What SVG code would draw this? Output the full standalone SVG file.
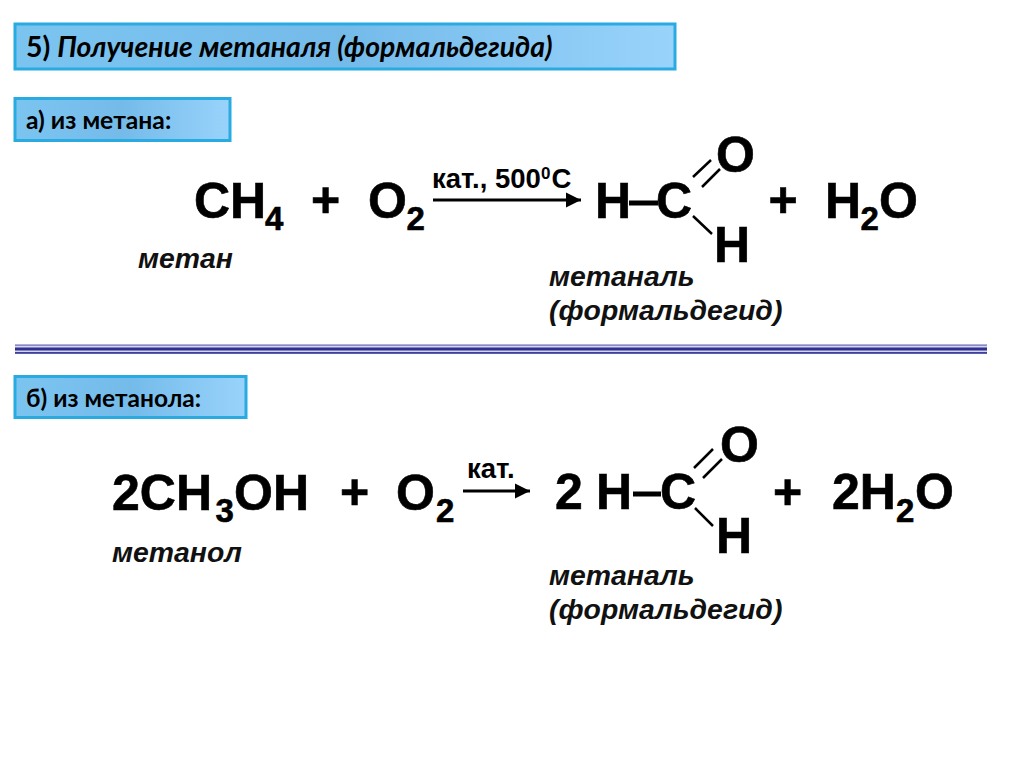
<svg xmlns="http://www.w3.org/2000/svg" width="1024" height="767" viewBox="0 0 1024 767">
<style>
.f{font-family:"Liberation Sans",Arial,sans-serif;font-weight:700;font-size:50px;fill:#000;stroke:#000;stroke-width:.6}
.s{font-size:33px}
.k{font-family:"Liberation Sans",Arial,sans-serif;font-weight:700;font-size:27.500px;fill:#000}
.l{font-family:"Liberation Sans",Arial,sans-serif;font-weight:700;font-style:italic;font-size:28.4px;fill:#111}
.h{font-family:Lato,"Open Sans",sans-serif;font-weight:700;fill:#000}
.b{fill:url(#g);stroke:#29abe2;stroke-width:3}
.c{stroke:#000;fill:none}
</style>
<defs>
<linearGradient id="g" x1="0" x2="1" y1="0" y2="0">
<stop offset="0" stop-color="#7cc4f0"/><stop offset=".5" stop-color="#74bbea"/><stop offset="1" stop-color="#99d3fb"/>
</linearGradient>
<marker id="a" markerUnits="userSpaceOnUse" markerWidth="16" markerHeight="16" refX="15" refY="8" orient="auto"><path d="M0 .5L15 8L0 15.500Z" fill="#000"/></marker>
</defs>
<rect width="1024" height="767" fill="#fff"/>
<g id="title"><rect class="b" x="15" y="24" width="660" height="45"/><text class="h" x="26" y="57" font-size="28.400">5) <tspan font-style="italic">Получение метаналя (формальдегида)</tspan></text></g>
<g id="from-methane"><rect class="b" x="15" y="98.500" width="215" height="42"/><text class="h" x="26" y="129" font-size="24.700">а) из метана:</text></g>
<g id="divider"><rect x="15" y="344" width="972" height="10" fill="#d5d5ec"/><rect x="15" y="344.500" width="972" height="1.500" fill="#8a8ac4"/><rect x="15" y="347.500" width="972" height="3" fill="#2e3192"/><rect x="15" y="352" width="972" height="1.800" fill="#3d3f9c"/></g>
<g id="from-methanol"><rect class="b" x="15" y="376.500" width="231" height="41"/><text class="h" x="26" y="407" font-size="24.500">б) из метанола:</text></g>

<g id="ch4"><text class="f" x="194" y="218">CH<tspan class="s" x="265" y="230">4</tspan></text></g>
<g id="plus1"><text class="f" x="311" y="217">+</text></g>
<g id="o2"><text class="f" x="368" y="218">O<tspan class="s" x="406.500" y="230">2</tspan></text></g>
<g id="cat1"><text class="k" x="432" y="188">кат., 500<tspan font-size="17" dy="-9">0</tspan><tspan dy="9" dx="1">С</tspan></text></g>
<g id="hc1"><text class="f" x="595" y="218">H</text><text class="f" x="656" y="218">C</text><text class="f" x="716" y="172">O</text><text class="f" x="714" y="262">H</text></g>
<g id="plus2"><text class="f" x="768.500" y="217">+</text></g>
<g id="h2o1"><text class="f" x="825" y="218">H<tspan class="s" x="860.500" y="230">2</tspan><tspan x="879" y="218">O</tspan></text></g>
<g id="methane"><text class="l" x="138" y="268">метан</text></g>
<g id="methanal1"><text class="l" x="549" y="286">метаналь</text><text class="l" x="549" y="320">(формальдегид)</text></g>

<g id="ch3oh"><text class="f" x="112" y="510">2CH<tspan class="s" x="215.500" y="522">3</tspan><tspan x="234" y="510">OH</tspan></text></g>
<g id="plus3"><text class="f" x="340" y="509">+</text></g>
<g id="o2b"><text class="f" x="396" y="510">O<tspan class="s" x="436" y="522">2</tspan></text></g>
<g id="cat2"><text class="k" x="467" y="478">кат.</text></g>
<g id="hc2"><text class="f" x="555" y="509">2</text><text class="f" x="596" y="509">H</text><text class="f" x="660" y="509">C</text><text class="f" x="720" y="462">O</text><text class="f" x="716" y="553">H</text></g>
<g id="plus4"><text class="f" x="773" y="509">+</text></g>
<g id="h2o2"><text class="f" x="832" y="509">2H<tspan class="s" x="896" y="522">2</tspan><tspan x="915" y="509">O</tspan></text></g>
<g id="methanol"><text class="l" x="112" y="562">метанол</text></g>
<g id="methanal2"><text class="l" x="549" y="585">метаналь</text><text class="l" x="549" y="619">(формальдегид)</text></g>

<g id="connectors">
<line class="c" stroke-width="3" x1="433" y1="200" x2="581" y2="200" marker-end="url(#a)"/>
<line class="c" stroke-width="3" x1="463" y1="491" x2="530" y2="491" marker-end="url(#a)"/>
<path class="c" stroke-width="5" d="M629 203H658M633 494H661"/>
<path class="c" stroke-width="2.500" d="M693 177L711 160M702 187L720 169M693 216L712 234M695 508L713 526M694 468L713 449M703 478L722 459"/>
</g>
</svg>
